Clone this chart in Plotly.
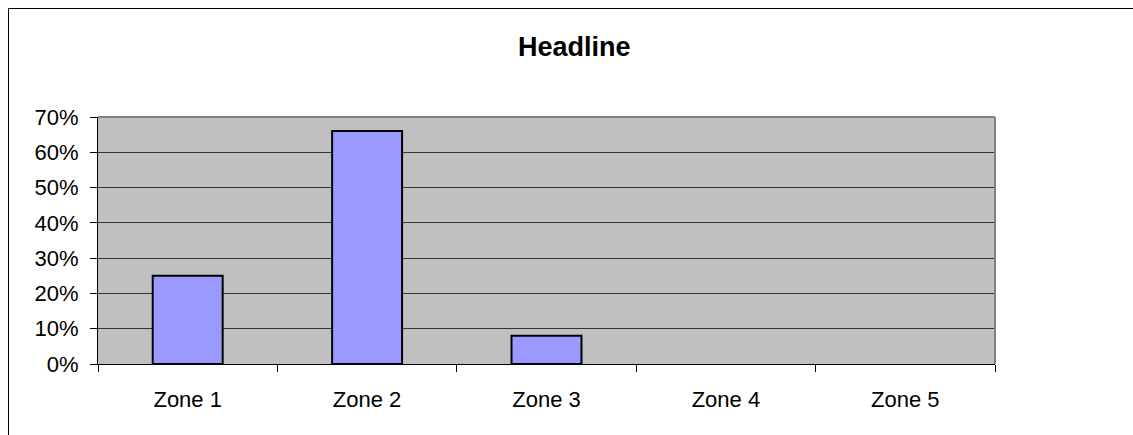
import plotly.graph_objects as go

zones = ["Zone 1", "Zone 2", "Zone 3", "Zone 4", "Zone 5"]
shares = [0.25, 0.66, 0.08, None, None]
y_ticks = [0, 0.1, 0.2, 0.3, 0.4, 0.5, 0.6, 0.7]
title_text = "Headline"

W, H = 1133, 435
L, R, T, B = 98, 995, 117, 364  # plot area pixel bounds

def px_x(p):
    return (p - L) / (R - L)

def px_y(p):
    return (B - p) / (B - T)

fig = go.Figure()
fig.add_trace(go.Bar(
    x=zones, y=shares,
    marker=dict(color="#9999FF", line=dict(color="#000000", width=2)),
    width=0.39,
))

font = "Arial, Liberation Sans, sans-serif"
fig.update_layout(
    width=W, height=H,
    margin=dict(l=L, r=W - R, t=T, b=H - B, pad=0),
    paper_bgcolor="white",
    plot_bgcolor="#C0C0C0",
    showlegend=False,
    font=dict(family=font, size=22, color="black"),
    xaxis=dict(
        type="category",
        tickson="boundaries",
        ticks="outside", ticklen=7, tickcolor="black", tickwidth=1,
        showline=True, linecolor="black", linewidth=1,
        showgrid=False,
        tickfont=dict(family=font, size=22, color="black"),
        ticklabelstandoff=16,
        range=[-0.5, 4.5],
    ),
    yaxis=dict(
        range=[0, 0.7],
        tickvals=y_ticks,
        tickformat=".0%",
        ticks="outside", ticklen=7, tickcolor="black", tickwidth=1,
        showline=True, linecolor="black", linewidth=1,
        showgrid=True, gridcolor="#333333", gridwidth=1,
        zeroline=False,
        tickfont=dict(family=font, size=22, color="black"),
        ticklabelstandoff=7,
    ),
    annotations=[dict(
        text="<b>" + title_text + "</b>",
        x=px_x(574), y=px_y(47), xref="paper", yref="paper",
        xanchor="center", yanchor="middle", showarrow=False,
        font=dict(family=font, size=27, color="black"),
    )],
    shapes=[
        # plot area border (gray, top & right)
        dict(type="line", xref="paper", yref="paper", x0=0, x1=1, y0=1, y1=1,
             line=dict(color="#808080", width=2), layer="above"),
        dict(type="line", xref="paper", yref="paper", x0=1, x1=1, y0=0, y1=1,
             line=dict(color="#808080", width=2), layer="above"),
        # outer chart border
        dict(type="rect", xref="paper", yref="paper",
             x0=px_x(8.5), x1=px_x(1145), y0=px_y(8.5), y1=px_y(445),
             line=dict(color="black", width=1), fillcolor="rgba(0,0,0,0)"),
    ],
)

fig.write_html("out.html")
